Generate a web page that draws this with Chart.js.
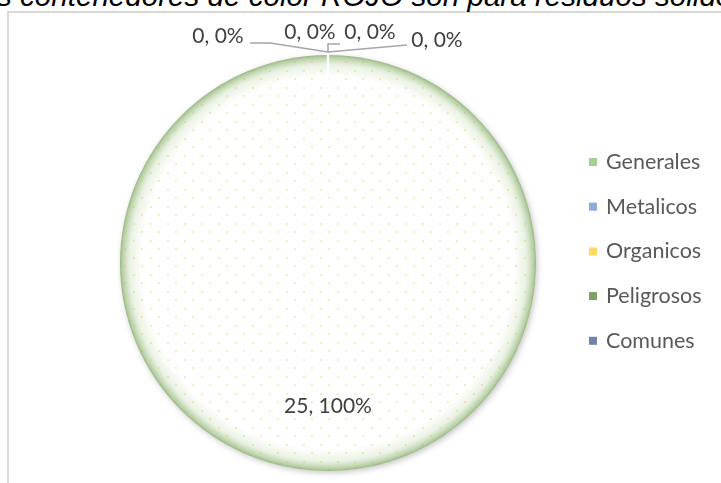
<!DOCTYPE html>
<html>
<head>
<meta charset="utf-8">
<script src="https://cdn.jsdelivr.net/npm/chart.js@4.4.0/dist/chart.umd.min.js"></script>
<style>
  html, body { margin: 0; padding: 0; background: #fff; overflow: hidden; }
  #wrap { position: relative; width: 721px; height: 483px; overflow: hidden; }
  #title { position: absolute; left: -3px; top: -21px; white-space: nowrap;
    font: italic 29.6px "Liberation Sans", Arial, sans-serif; color: #000; line-height: 34px; }
  #frame { position: absolute; left: 7px; top: 11px; width: 800px; height: 600px;
    border-left: 2px solid #d9d9d9; border-top: 2px solid #d9d9d9; }
  canvas { position: absolute; left: 0; top: 0; }
</style>
</head>
<body>
<div id="wrap">
  <div id="frame"></div>
  <div id="title">s contenedores de color ROJO son para residuos solido</div>
  <canvas id="c" width="721" height="483"></canvas>
</div>
<script>
const categories = ["Generales", "Metalicos", "Organicos", "Peligrosos", "Comunes"];
const values = [25, 0, 0, 0, 0];
const legendColors = ["#a9d18e", "#8faadc", "#ffd966", "#7f9e64", "#6f84ab"];

// label placement offsets (relative to the top point of the pie) for each zero slice
const zeroLabelOffsets = [null, [-110, -19], [-18, -23], [42, -23], [109, -15]];
const zeroLeaders = [null,
  [[-78, -12], [-58, -12], [0, -3]],
  null,
  [[0, -3], [0, -11], [12, -11]],
  [[0, -3], [79, -10]]
];

// dotted pattern fill
function makePattern() {
  const t = document.createElement('canvas');
  t.width = 17; t.height = 17;
  const g = t.getContext('2d');
  g.fillStyle = '#ffffff'; g.fillRect(0, 0, 17, 17);
  g.fillStyle = '#fde9b3';
  g.fillRect(14, 2, 2, 2);
  g.fillRect(5, 10, 2, 2);
  return document.createElement('canvas').getContext('2d').createPattern(t, 'repeat');
}
const pat = makePattern();

const labelFont = '21px Lato, "Noto Sans", sans-serif';

const decor = {
  id: 'decor',
  beforeDatasetsDraw(chart) {
    const meta = chart.getDatasetMeta(0);
    const a = meta.data[0];
    if (!a) return;
    const ctx = chart.ctx;
    // soft shadow to lower right
    ctx.save();
    ctx.shadowColor = 'rgba(0,0,0,0.25)';
    ctx.shadowBlur = 6;
    ctx.shadowOffsetX = 1.5;
    ctx.shadowOffsetY = 2;
    ctx.fillStyle = '#ffffff';
    ctx.beginPath(); ctx.arc(a.x, a.y, a.outerRadius - 0.5, 0, Math.PI * 2); ctx.fill();
    ctx.restore();
  },
  afterDatasetsDraw(chart) {
    const ctx = chart.ctx;
    const meta = chart.getDatasetMeta(0);
    const arc0 = meta.data[0];
    const cx = arc0.x, cy = arc0.y, r = arc0.outerRadius;
    // soft green edge
    ctx.save();
    ctx.beginPath(); ctx.arc(cx, cy, r, 0, Math.PI * 2); ctx.clip();
    const g = ctx.createRadialGradient(cx, cy, r - 22, cx, cy, r);
    g.addColorStop(0, 'rgba(169,209,142,0)');
    g.addColorStop(0.55, 'rgba(175,205,150,0.25)');
    g.addColorStop(0.9, 'rgba(150,185,125,0.7)');
    g.addColorStop(1, 'rgba(135,168,110,0.85)');
    ctx.fillStyle = g;
    ctx.fillRect(cx - r, cy - r, 2 * r, 2 * r);
    ctx.restore();
    // white separators of the zero slices at the top
    ctx.save();
    ctx.strokeStyle = '#ffffff'; ctx.lineWidth = 2.5;
    ctx.beginPath(); ctx.moveTo(cx, cy - r + 30); ctx.lineTo(cx, cy - r - 1); ctx.stroke();
    ctx.restore();

    const total = values.reduce((a, b) => a + b, 0);
    const topX = cx, topY = cy - r;
    ctx.save();
    ctx.font = labelFont;
    ctx.fillStyle = '#404040';
    ctx.textAlign = 'center';
    ctx.textBaseline = 'middle';
    ctx.strokeStyle = '#a6a6a6';
    ctx.lineWidth = 1.5;
    values.forEach((v, i) => {
      const txt = v + ', ' + Math.round(v / total * 100) + '%';
      if (v > 0) {
        const a = meta.data[i];
        const mid = (a.startAngle + a.endAngle) / 2;
        const rr = r * 0.69;
        ctx.fillText(txt, cx + Math.cos(mid) * rr, cy + Math.sin(mid) * rr);
      } else {
        const o = zeroLabelOffsets[i];
        ctx.fillText(txt, topX + o[0], topY + o[1]);
        const L = zeroLeaders[i];
        if (L) {
          ctx.beginPath();
          L.forEach((p, k) => k ? ctx.lineTo(topX + p[0], topY + p[1]) : ctx.moveTo(topX + p[0], topY + p[1]));
          ctx.stroke();
        }
      }
    });
    ctx.restore();

    // legend
    ctx.save();
    ctx.font = '21.5px Lato, "Noto Sans", sans-serif';
    ctx.textBaseline = 'middle';
    ctx.textAlign = 'left';
    categories.forEach((c, i) => {
      const y = 162 + i * 44.7;
      ctx.fillStyle = legendColors[i];
      ctx.fillRect(589, y - 4, 8, 8);
      ctx.fillStyle = '#595959';
      ctx.fillText(c, 606, y);
    });
    ctx.restore();
  }
};

new Chart(document.getElementById('c'), {
  type: 'pie',
  data: {
    labels: categories,
    datasets: [{
      data: values,
      backgroundColor: [pat, pat, pat, pat, pat],
      borderColor: '#ffffff',
      borderWidth: 0
    }]
  },
  options: {
    responsive: false,
    animation: false,
    layout: { padding: { left: 120, right: 185, top: 55, bottom: 12 } },
    plugins: { legend: { display: false }, tooltip: { enabled: false } }
  },
  plugins: [decor]
});
</script>
</body>
</html>
